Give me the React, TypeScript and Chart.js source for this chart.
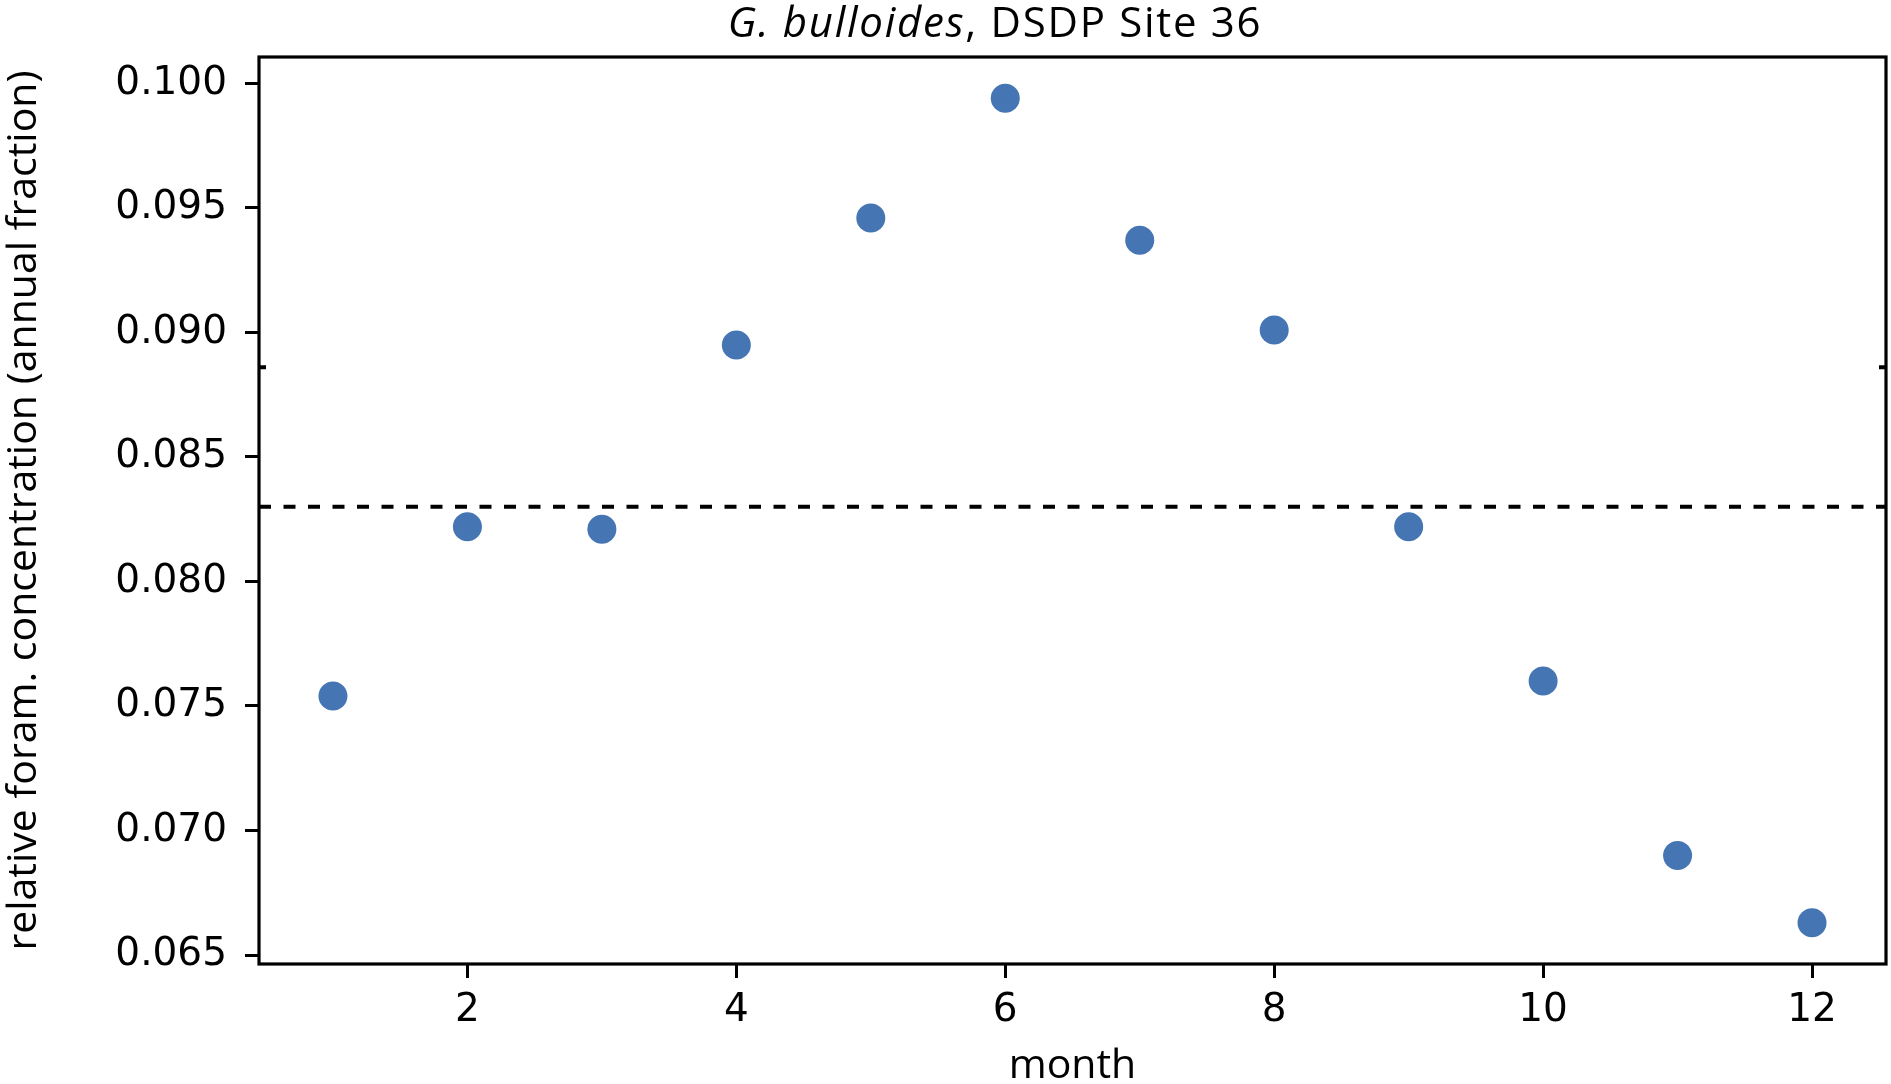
import React, { useEffect, useRef } from "react";
import { Chart, registerables } from "chart.js";

Chart.register(...registerables);

const months = [1, 2, 3, 4, 5, 6, 7, 8, 9, 10, 11, 12];
const relConc = [
  0.0754, 0.0822, 0.0821, 0.0895, 0.0946, 0.0994, 0.0937, 0.0901, 0.0822,
  0.076, 0.069, 0.0663,
];
const refLevel = 0.083;
const sideMark = 0.0886;
const xTicks = [2, 4, 6, 8, 10, 12];
const yTicks = [0.065, 0.07, 0.075, 0.08, 0.085, 0.09, 0.095, 0.1];
const xRange = [0.45, 12.55];
const yRange = [0.06464, 0.10106];

const labelFont = "'Open Sans', 'Noto Sans', sans-serif";
const tickFont = "'DejaVu Sans', sans-serif";

// frame, the two small inner marks and the mixed-style title
const framePlugin = {
  id: "frame",
  afterDatasetsDraw(chart: any) {
    const { ctx, chartArea: a, scales } = chart;
    ctx.save();
    ctx.strokeStyle = "#000";
    ctx.lineWidth = 3.2;
    ctx.strokeRect(a.left, a.top, a.right - a.left, a.bottom - a.top);
    const y = scales.y.getPixelForValue(sideMark);
    ctx.lineWidth = 4;
    ctx.beginPath();
    ctx.moveTo(a.left, y);
    ctx.lineTo(a.left + 7, y);
    ctx.moveTo(a.right, y);
    ctx.lineTo(a.right - 7, y);
    ctx.stroke();

    const part1 = "G. bulloides";
    const part2 = ", DSDP Site 36";
    ctx.fillStyle = "#000";
    ctx.textBaseline = "alphabetic";
    ctx.letterSpacing = "1.7px";
    ctx.font = `italic 42px ${labelFont}`;
    const w1 = ctx.measureText(part1).width;
    ctx.font = `42px ${labelFont}`;
    const w2 = ctx.measureText(part2).width;
    const x0 = 995 - (w1 + w2) / 2;
    ctx.font = `italic 42px ${labelFont}`;
    ctx.fillText(part1, x0, 37);
    ctx.font = `42px ${labelFont}`;
    ctx.fillText(part2, x0 + w1, 37);
    ctx.restore();
  },
};

const App: React.FC = () => {
  const canvasRef = useRef<HTMLCanvasElement | null>(null);
  const chartInstance = useRef<Chart | null>(null);

  useEffect(() => {
    const ctx = canvasRef.current?.getContext("2d");
    if (!ctx) return;
    if (chartInstance.current) chartInstance.current.destroy();

    chartInstance.current = new Chart(ctx, {
      type: "scatter",
      data: {
        datasets: [
          {
            label: "G. bulloides",
            data: months.map((m, i) => ({ x: m, y: relConc[i] })),
            backgroundColor: "rgb(70,117,180)",
            borderWidth: 0,
            pointRadius: 14.5,
            pointHoverRadius: 14.5,
          },
          {
            type: "line",
            label: "mean",
            data: xRange.map((x) => ({ x, y: refLevel })),
            borderColor: "#000",
            borderWidth: 4,
            borderDash: [12, 12.5],
            pointRadius: 0,
            fill: false,
          } as any,
        ],
      },
      options: {
        animation: false,
        responsive: true,
        maintainAspectRatio: false,
        layout: {
          autoPadding: false,
          padding: { top: 57, right: 5, left: 0, bottom: 0 },
        },
        plugins: {
          legend: { display: false },
          title: { display: false },
          tooltip: { enabled: false },
        },
        scales: {
          x: {
            type: "linear",
            min: xRange[0],
            max: xRange[1],
            afterBuildTicks: (s: any) => {
              s.ticks = xTicks.map((v) => ({ value: v }));
            },
            afterFit: (s: any) => {
              s.height = 120;
              s.paddingLeft = 0;
              s.paddingRight = 0;
            },
            border: { display: false },
            grid: {
              drawOnChartArea: false,
              drawTicks: true,
              tickLength: 14,
              color: "#000",
              lineWidth: 3,
            },
            ticks: {
              color: "#000",
              font: { family: tickFont, size: 39 },
              padding: 9,
              maxRotation: 0,
              callback: (v: any) => String(v),
            },
            title: {
              display: true,
              text: "month",
              color: "#000",
              font: { family: labelFont, size: 41, lineHeight: 0.85 },
              padding: { top: 0, bottom: 0 },
            },
          },
          y: {
            type: "linear",
            min: yRange[0],
            max: yRange[1],
            afterBuildTicks: (s: any) => {
              s.ticks = yTicks.map((v) => ({ value: v }));
            },
            afterFit: (s: any) => {
              s.width = 259;
              s.paddingTop = 0;
              s.paddingBottom = 0;
            },
            border: { display: false },
            grid: {
              drawOnChartArea: false,
              drawTicks: true,
              tickLength: 14,
              color: "#000",
              lineWidth: 3,
            },
            ticks: {
              color: "#000",
              font: { family: tickFont, size: 39 },
              padding: 18,
              callback: (v: any) => Number(v).toFixed(3),
            },
            title: {
              display: true,
              text: "relative foram. concentration (annual fraction)",
              color: "#000",
              font: { family: labelFont, size: 41 },
              padding: { top: 0, bottom: 0 },
            },
          },
        },
      },
      plugins: [framePlugin],
    });

    return () => {
      if (chartInstance.current) {
        chartInstance.current.destroy();
        chartInstance.current = null;
      }
    };
  }, []);

  return (
    <div
      style={{
        position: "absolute",
        left: 0,
        top: 0,
        width: 1891,
        height: 1084,
        overflow: "hidden",
        background: "#fff",
      }}
    >
      <canvas ref={canvasRef} style={{ display: "block" }}></canvas>
    </div>
  );
};

export default App;
